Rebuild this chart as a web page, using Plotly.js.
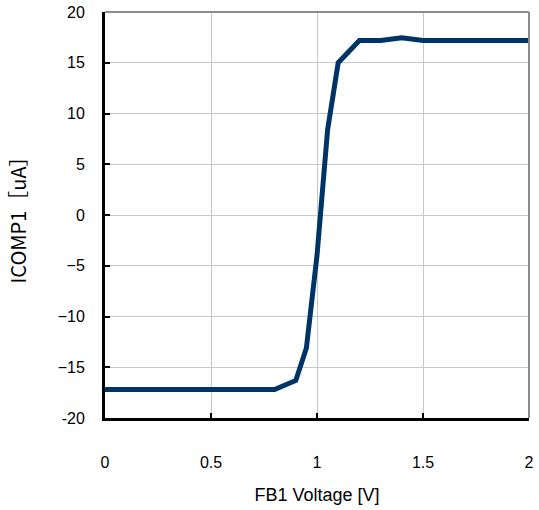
<!DOCTYPE html>
<html>
<head>
<meta charset="utf-8">
<script src="https://cdn.plot.ly/plotly-3.0.1.min.js"></script>
<style>html,body{margin:0;padding:0;background:#fff;}#chart{width:539px;height:510px;}</style>
</head>
<body>
<div id="chart"></div>
<script>
const voltage = [0, 0.1, 0.2, 0.3, 0.4, 0.5, 0.6, 0.7, 0.8, 0.9, 0.95, 1.0, 1.05, 1.1, 1.2, 1.3, 1.4, 1.5, 1.6, 1.7, 1.8, 1.9, 2.0];
const icomp = [-17.2, -17.2, -17.2, -17.2, -17.2, -17.2, -17.2, -17.2, -17.2, -16.3, -13.1, -4.0, 8.4, 15.0, 17.2, 17.2, 17.45, 17.2, 17.2, 17.2, 17.2, 17.2, 17.2];
const xTicks = [0, 0.5, 1, 1.5, 2];
const xTickText = ['0', '0.5', '1', '1.5', '2'];
const yTicks = [-20, -15, -10, -5, 0, 5, 10, 15, 20];
const yTickText = ['-20', '−15', '−10', '−5', '0', '5', '10', '15', '20'];

const trace = {
  x: voltage, y: icomp, mode: 'lines', type: 'scatter',
  line: {color: '#003366', width: 5}, hoverinfo: 'none'
};
const layout = {
  width: 539, height: 510,
  margin: {l: 105, r: 10, t: 12, b: 92},
  paper_bgcolor: '#fff', plot_bgcolor: '#fff',
  showlegend: false,
  font: {family: 'Liberation Sans, Arial, sans-serif', color: '#000', size: 16},
  xaxis: {
    range: [0, 2], tickvals: xTicks, ticktext: xTickText,
    showgrid: true, gridcolor: '#c8c8c8', gridwidth: 1,
    showline: true, linecolor: '#000', linewidth: 3,
    ticks: 'inside', ticklen: 5, tickwidth: 2, tickcolor: '#000',
    ticklabelstandoff: 28, zeroline: false,
    tickfont: {size: 16},
    title: {text: 'FB1 Voltage [V]', font: {size: 18}, standoff: 19}
  },
  yaxis: {
    range: [-20, 20], tickvals: yTicks, ticktext: yTickText,
    showgrid: true, gridcolor: '#c8c8c8', gridwidth: 1,
    showline: true, linecolor: '#000', linewidth: 3,
    ticks: 'inside', ticklen: 5, tickwidth: 2, tickcolor: '#000',
    ticklabelstandoff: 14, zeroline: false,
    tickfont: {size: 16},
    title: {text: 'ICOMP1［uA］', font: {size: 20, family: 'Noto Sans CJK JP, Liberation Sans, sans-serif'}, standoff: 26}
  },
  shapes: [
    {type: 'line', xref: 'paper', yref: 'paper', x0: 0, x1: 1, y0: 1, y1: 1, line: {color: '#8c8c8c', width: 2}},
    {type: 'line', xref: 'paper', yref: 'paper', x0: 1, x1: 1, y0: 0, y1: 1, line: {color: '#8c8c8c', width: 2}}
  ]
};
Plotly.newPlot('chart', [trace], layout, {staticPlot: true, displayModeBar: false});
</script>
</body>
</html>
